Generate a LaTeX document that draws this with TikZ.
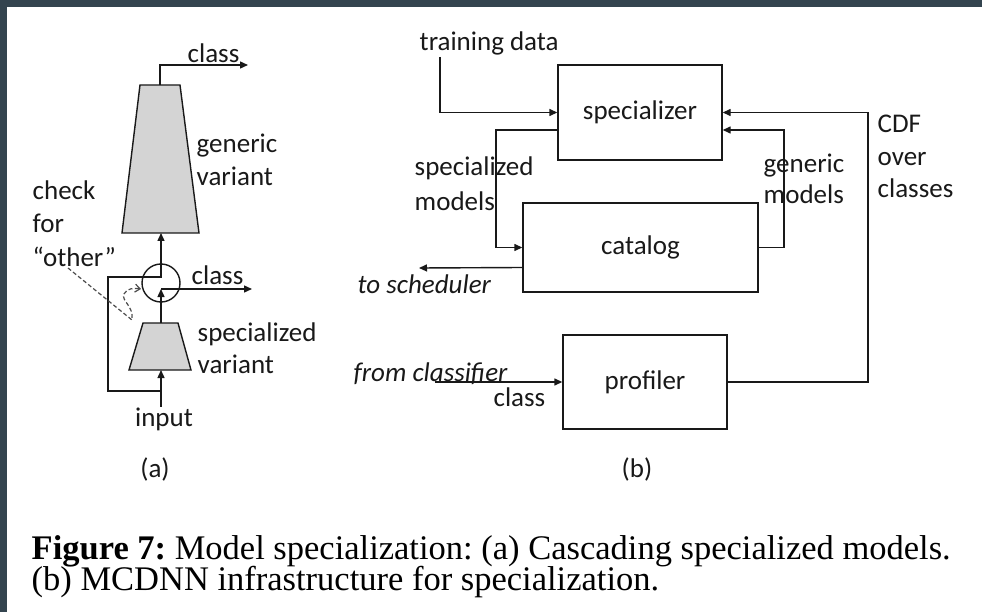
\documentclass[tikz,border=0pt]{standalone}
\usepackage{fontspec}
\setmainfont{Carlito}
\newfontfamily\capfont{Liberation Serif}
\usetikzlibrary{arrows.meta,calc}
\definecolor{frame}{RGB}{52,68,79}
\definecolor{shade}{RGB}{212,212,212}
\definecolor{ink}{RGB}{25,25,25}
\frenchspacing
\begin{document}
\begin{tikzpicture}[x=1pt,y=-1pt,line width=1.4pt,draw=ink,
  arr/.style={-{Triangle[length=8pt,width=7pt]}},
  lbl/.style={inner sep=0pt,text=ink,font=\fontsize{27}{32}\selectfont},
  box/.style={draw,inner sep=0pt,text=ink,font=\fontsize{27}{32}\selectfont},
  trap/.style={fill=shade,draw=ink},
  hint/.style={draw=gray!60!black,line width=1.2pt,dash pattern=on 4pt off 2.5pt,
    -{Straight Barb[length=5pt,width=8pt]}}]

% frame and page
\fill[frame] (0,0) rectangle (982,612);
\fill[white] (7,7) rectangle (982,612);
\useasboundingbox (0,0) rectangle (982,612);

% ---------------- (a) cascade ----------------
% generic variant
\filldraw[trap] (140,85) -- (180,85) -- (199,233) -- (122,233) -- cycle;
\coordinate (gtop) at (160,85);
\coordinate (gbot) at (161,233);
% specialized variant
\filldraw[trap] (143,323) -- (178,323) -- (191,370) -- (129,370) -- cycle;
\coordinate (stop) at (161,323);
\coordinate (sbot) at (161,370);
% switch
\node[draw,circle,minimum size=38pt,inner sep=0pt] (sw) at (161,283) {};
\coordinate (tap) at (161,289);
\coordinate (turn) at (161,277);
\coordinate (fork) at (161,391);
\coordinate (lc1) at (108,391);
\coordinate (lc2) at (108,277);
\coordinate (outS) at (252,289);
\coordinate (up1) at (160,65);
\coordinate (outG) at (248,65);

\node[lbl,anchor=base west] (clsG) at (187,63) {class};
\node[lbl,anchor=base west] (gen1) at (196,153) {generic};
\node[lbl,anchor=base west] (gen2) at (196,186) {variant};
\node[lbl,anchor=base west] (chk1) at (32,200) {check};
\node[lbl,anchor=base west] (chk2) at (32,233) {for};
\node[lbl,anchor=base west] (chk3) at (32,266) {“other”};
\node[lbl,anchor=base west] (clsS) at (191,284) {class};
\node[lbl,anchor=base west] (spc1) at (197,341) {specialized};
\node[lbl,anchor=base west] (spc2) at (197,373) {variant};
\node[lbl,anchor=base] (inp) at (164,426) {input};
\node[lbl,anchor=base] (capA) at (155,477) {(a)};

\draw[arr] (gtop) -- (up1) -- (outG);
\draw[arr] (sbot |- inp.north) -- (sbot);
\draw[arr] (fork) -- (lc1) -- (lc2) -- (turn) -- (gbot);
\draw[arr] (stop) -- (tap);
\draw[arr] (tap) -- (outS);
\draw[hint] (68,268) -- (132,320) .. controls (134,306) and (121,301) .. (124,294)
  .. controls (127,288) and (134,288) .. (141,289);

% ---------------- (b) infrastructure ----------------
\node[box,minimum width=164pt,minimum height=95pt] (spec) at (640,112.5) {specializer};
\node[box,minimum width=235pt,minimum height=89pt] (cat) at (640.5,247.5) {catalog};
\node[box,minimum width=164pt,minimum height=94pt] (prof) at (645,382) {profiler};

\node[lbl,anchor=base west] (td) at (419,51) {training data};
\node[lbl,anchor=base west] (sm1) at (414,176) {specialized};
\node[lbl,anchor=base west] (sm2) at (414,211) {models};
\node[lbl,anchor=base west] (gm1) at (763,173) {generic};
\node[lbl,anchor=base west] (gm2) at (763,204) {models};
\node[lbl,anchor=base west] (cdf1) at (877,133) {CDF};
\node[lbl,anchor=base west] (cdf2) at (877,166) {over};
\node[lbl,anchor=base west] (cdf3) at (877,198) {classes};
\node[lbl,anchor=base west] (sched) at (357,294) {\itshape to scheduler};
\node[lbl,anchor=base west] (fc) at (353,381) {\itshape from classifier};
\node[lbl,anchor=base east] (clsB) at (546,406) {class};
\node[lbl,anchor=base] (capB) at (637,477) {(b)};

\coordinate (tdA) at (440,57);
\coordinate (smX) at (496,0);
\coordinate (gmX) at (784,0);
\coordinate (cdfX) at (868,0);
\coordinate (specE2) at ([yshift=-17.5pt]spec.east);
\coordinate (specW2) at ([yshift=-17.5pt]spec.west);
\coordinate (catW2) at ([yshift=-20pt]cat.west);
\coordinate (schedEnd) at (419,268);
\coordinate (fcStart) at (435,382);

\draw[arr] (tdA) |- (spec.west);
\draw[arr] (specW2) -| (smX |- cat.west) -- (cat.west);
\draw[arr] (catW2) -- (schedEnd);
\draw[arr] (cat.east) -| (gmX |- specE2) -- (specE2);
\draw[arr] (prof.east) -| (cdfX |- spec.east) -- (spec.east);
\draw[arr] (fcStart) -- (prof.west);

% caption
\node[anchor=base west,inner sep=0pt,font=\capfont\fontsize{34.5}{32}\selectfont] (cap1) at (31,559)
  {\textbf{Figure 7:} Model specialization: (a) Cascading specialized models.};
\node[anchor=base west,inner sep=0pt,font=\capfont\fontsize{34.5}{32}\selectfont] (cap2) at (31,590)
  {(b) MCDNN infrastructure for specialization.};
\end{tikzpicture}
\end{document}
